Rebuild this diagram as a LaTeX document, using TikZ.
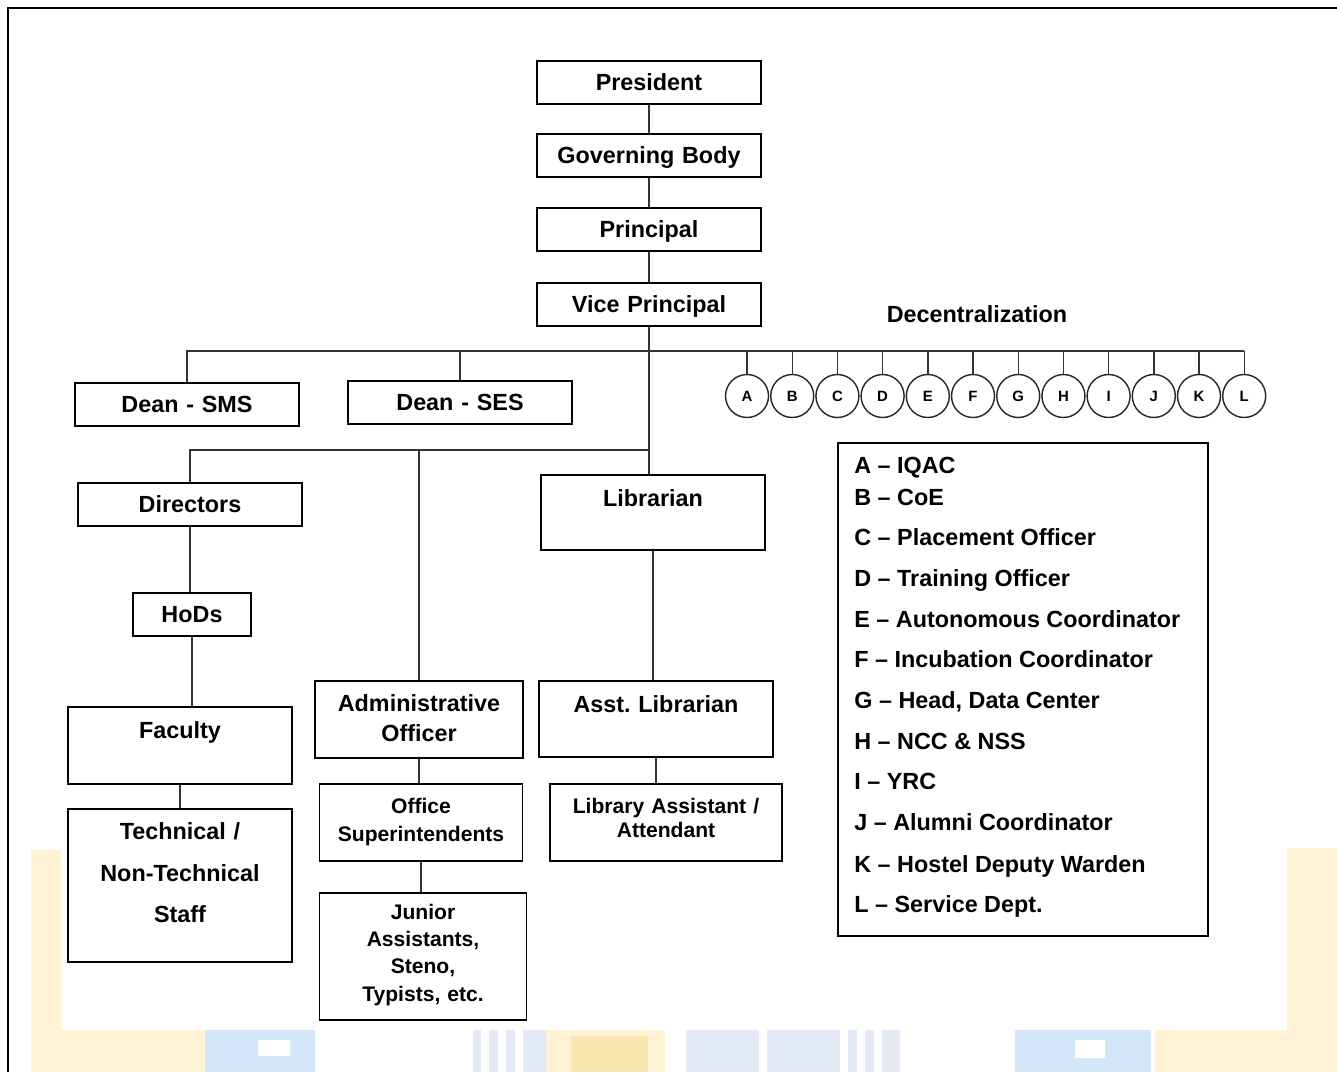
\documentclass[tikz,border=0pt]{standalone}
\usepackage{fontspec}
\setmainfont{Liberation Sans}
\frenchspacing
\definecolor{wmyellow}{HTML}{FFF2D5}
\definecolor{wmgold}{HTML}{F9E7AE}
\definecolor{wmblue}{HTML}{D4E7FA}
\definecolor{wmgrey}{HTML}{E3EAF6}

\begin{document}
\begin{tikzpicture}[x=0.02cm, y=-0.02cm,
    box/.style={draw=black, line width=1.1pt, fill=white, inner sep=0pt, anchor=north, align=center, font=\bfseries\fontsize{13.3}{16}\selectfont},
    onebox/.style={box, text width=4.48cm, text height=0.59cm, text depth=0.27cm},
    smallbox/.style={box, font=\bfseries\fontsize{12}{15.5}\selectfont},
    link/.style={draw=black!80, line width=0.8pt},
    dcircle/.style={circle, draw=black!85, line width=0.8pt, fill=white, minimum size=0.86cm, inner sep=0pt, font=\bfseries\fontsize{8.5}{9}\selectfont},
    keyline/.style={anchor=base west, inner sep=0pt, font=\bfseries\fontsize{13.3}{16}\selectfont}]
\useasboundingbox (0,0) rectangle (1337,1072);

% faint watermark behind the chart
\begin{scope}
  \fill[wmyellow] (31,850) rectangle (61,1072);
  \fill[wmyellow] (45,1030) rectangle (205,1072);
  \fill[wmblue] (205,1030) rectangle (315,1072);
  \fill[white] (258,1040) rectangle (290,1056);
  \foreach \xa/\xb in {473/481, 489/498, 506/515, 523/546, 848/857, 865/874, 882/900}
    \fill[wmgrey] (\xa,1030) rectangle (\xb,1072);
  \fill[wmyellow] (546,1030) rectangle (665,1072);
  \fill[wmgold] (571,1036) rectangle (648,1072);
  \fill[wmgrey] (686,1030) rectangle (759,1072);
  \fill[wmgrey] (767,1030) rectangle (840,1072);
  \fill[wmblue] (1015,1030) rectangle (1151,1072);
  \fill[white] (1075,1040) rectangle (1105,1058);
  \fill[wmyellow] (1155,1030) rectangle (1337,1072);
  \fill[wmyellow] (1287,848) rectangle (1337,1030);
\end{scope}

% page frame
\draw[line width=1.1pt] (8,1072) -- (8,8) -- (1337,8);

% main column
\node[onebox] (pres) at (649,60) {President};
\node[onebox] (gov) at (649,133) {Governing Body};
\node[onebox] (prin) at (649,207) {Principal};
\node[onebox] (vp) at (649,282) {Vice Principal};

% deans
\node[onebox] (sms) at (187,382) {Dean - SMS};
\node[onebox] (ses) at (460,380) {Dean - SES};

% academic side
\node[onebox] (dir) at (190,482) {Directors};
\node[box, text width=2.36cm, text height=0.59cm, text depth=0.27cm] (hods) at (192,592) {HoDs};
\node[box, text width=4.48cm, text height=0.64cm, text depth=0.90cm] (fac) at (180,706) {Faculty};
\node[box, text width=4.48cm, text height=0.62cm, text depth=2.44cm,
      font=\bfseries\fontsize{13.3}{23.6}\selectfont] (tech) at (180,808) {Technical /\\Non-Technical\\Staff};

% administration
\node[box, text width=4.16cm, text height=0.62cm, text depth=0.92cm,
      font=\bfseries\fontsize{13.3}{17}\selectfont] (adm) at (419,680) {Administrative\\Officer};
\node[smallbox, text width=4.06cm, text height=0.59cm, text depth=0.95cm,
      font=\bfseries\fontsize{12}{15.9}\selectfont] (offs) at (421,783) {Office\\Superintendents};
\node[smallbox, text width=4.14cm, text height=0.53cm, text depth=2.01cm] (jun) at (423,892) {Junior\\Assistants,\\Steno,\\Typists, etc.};

% library
\node[box, text width=4.48cm, text height=0.64cm, text depth=0.86cm] (lib) at (653,474) {Librarian};
\node[box, text width=4.68cm, text height=0.64cm, text depth=0.88cm] (alib) at (656,680) {Asst. Librarian};
\node[smallbox, text width=4.64cm, text height=0.59cm, text depth=0.95cm,
      font=\bfseries\fontsize{12}{13.6}\selectfont] (lass) at (666,783) {Library Assistant /\\Attendant};

% decentralization
\node[font=\bfseries\fontsize{13.3}{16}\selectfont] (dec) at (977,314) {Decentralization};
\coordinate (bus1) at (1244,351);
\coordinate (bus2) at (650,450);
\foreach \l [count=\i] in {A,B,C,D,E,F,G,H,I,J,K,L}
  \node[dcircle] (d\l) at ({747+45.2*(\i-1)},396) {\l};

% connectors
\draw[link] (pres) -- (gov);
\draw[link] (gov) -- (prin);
\draw[link] (prin) -- (vp);
\draw[link] (vp.south) -- (vp.south |- lib.north);
\draw[link] (sms.north) -- (sms.north |- bus1) -- (bus1);
\draw[link] (ses.north) -- (ses.north |- bus1);
\foreach \l in {A,B,C,D,E,F,G,H,I,J,K,L}
  \draw[link] (d\l.north) -- (d\l.north |- bus1);
\draw[link] (dir.north) |- (bus2);
\draw[link] (adm.north) -- (adm.north |- bus2);
\draw[link] (dir.south) -- (dir.south |- hods.north);
\draw[link] (hods.south) -- (hods.south |- fac.north);
\draw[link] (fac.south) -- (fac.south |- tech.north);
\draw[link] (adm.south) -- (adm.south |- offs.north);
\draw[link] (offs.south) -- (offs.south |- jun.north);
\draw[link] (lib.south) -- (lib.south |- alib.north);
\draw[link] (alib.south) -- (alib.south |- lass.north);

% key to the letters
\node[draw=black, line width=1.1pt, fill=white, anchor=north west, inner sep=0pt,
      minimum width=7.4cm, minimum height=9.86cm] (key) at (837,442) {};
\foreach \yy/\txt in {465/{A – IQAC}, 497/{B – CoE}, 537/{C – Placement Officer},
    578/{D – Training Officer}, 619/{E – Autonomous Coordinator},
    659/{F – Incubation Coordinator}, 700/{G – Head, Data Center},
    741/{H – NCC \& NSS}, 781/{I – YRC}, 822/{J – Alumni Coordinator},
    864/{K – Hostel Deputy Warden}, 904/{L – Service Dept.}}
  \node[keyline] at (854,\yy+8) {\txt};
\end{tikzpicture}
\end{document}
